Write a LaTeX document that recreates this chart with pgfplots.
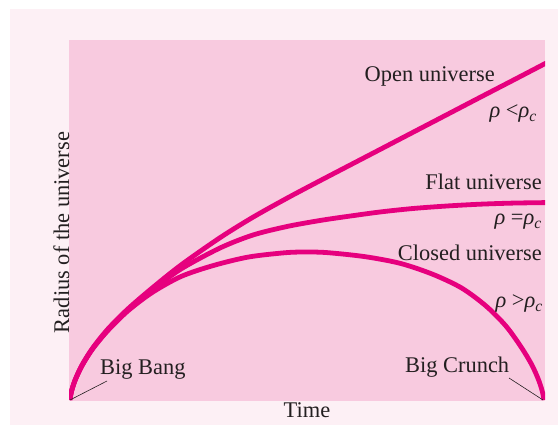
\documentclass[border=0pt]{standalone}
\usepackage{pgfplots}
\pgfplotsset{compat=1.18}
\usepackage{fontspec}
\setmainfont{Liberation Serif}

\definecolor{curve}{RGB}{230,0,126}
\definecolor{plotbg}{RGB}{248,202,223}
\definecolor{outerbg}{RGB}{253,240,245}
\definecolor{ink}{RGB}{35,31,32}

\newcommand{\lbl}{\fontsize{22.5}{26}\selectfont}

\begin{document}
\begin{tikzpicture}
\path[use as bounding box] (0,0) rectangle (558bp,425bp);
\fill[outerbg] (10bp,0) rectangle (558bp,416bp);
\begin{axis}[
    at={(69bp,24bp)}, anchor=south west,
    scale only axis,
    width=476bp, height=361bp,
    xmin=-1, xmax=475,
    ymin=-1, ymax=360,
    axis line style={draw=none},
    ticks=none,
    axis background/.style={fill=plotbg},
    xlabel={Time},
    ylabel={Radius of the universe},
    label style={font=\lbl, text=ink},
    xlabel style={at={(axis description cs:0.5,0)}, anchor=base, yshift=-17bp},
    ylabel style={at={(axis description cs:0,0.5)}, anchor=base, xshift=-12bp},
    universe/.style={curve, line width=4.8bp, smooth, mark=none},
]
% Open universe (rho < rho_c)
\addplot[universe] coordinates {
    (0,0) (0.2,2.4) (1.6,9.3) (5.2,20.3) (12,35) (22.7,52) (37.9,71) (57.8,91)
    (82.2,112) (111,135) (150,162.3) (183,182.8) (217,201.8) (247,217.7)
    (280,234.9) (310,250.5) (343,267.7) (377,285.4) (410,302.6) (443,319.7)
    (476,336.9)
};
% Flat universe (rho = rho_c)
\addplot[universe] coordinates {
    (0,0) (0.2,2.4) (1.6,9.2) (5.2,20.1) (12,34.6) (22.7,51.5) (37.9,70) (57.8,90)
    (82.2,110) (111,131) (150,152) (183,165) (217,173.5) (250,179.5) (277,183.5)
    (310,188) (343,191.5) (377,194) (410,195.8) (443,196.9) (476,197.4)
};
% Closed universe (rho > rho_c)
\addplot[universe] coordinates {
    (0,0) (0.2,2.3) (1.6,9) (5.2,19.9) (12,34.2) (22.7,51.2) (37.9,69.5)
    (57.8,89) (82.2,107.5) (111,123.5) (143.4,134.5) (178.6,143)
    (215.6,147.3) (236.9,148) (258.2,147.3) (295.2,143.3) (330.4,136.6)
    (362.8,125.7) (391.6,112) (416,94) (435.9,74) (451.1,53) (461.9,35)
    (468.6,20) (472.2,9) (473.6,2.3) (473.8,0)
};

\begin{scope}[every node/.style={font=\lbl, text=ink, inner sep=0pt}]
\node[anchor=base east] at (axis cs:425,318) {Open universe};
\node[anchor=base east] at (axis cs:467,282) {\textit{ρ} <\textit{ρ\textsubscript{c}}};
\node[anchor=base east] at (axis cs:472,210) {Flat universe};
\node[anchor=base east] at (axis cs:472,175) {\textit{ρ} =\textit{ρ\textsubscript{c}}};
\node[anchor=base east] at (axis cs:472,139) {Closed universe};
\node[anchor=base east] at (axis cs:473,92) {\textit{ρ} >\textit{ρ\textsubscript{c}}};
\node[anchor=base west] at (axis cs:30,25) {Big Bang};
\node[anchor=base west] at (axis cs:335,27) {Big Crunch};
\end{scope}
\draw[ink, line width=0.6bp] (axis cs:0,0) -- (axis cs:37,19);
\draw[ink, line width=0.6bp] (axis cs:473,0) -- (axis cs:439,22);
\end{axis}
\end{tikzpicture}
\end{document}
